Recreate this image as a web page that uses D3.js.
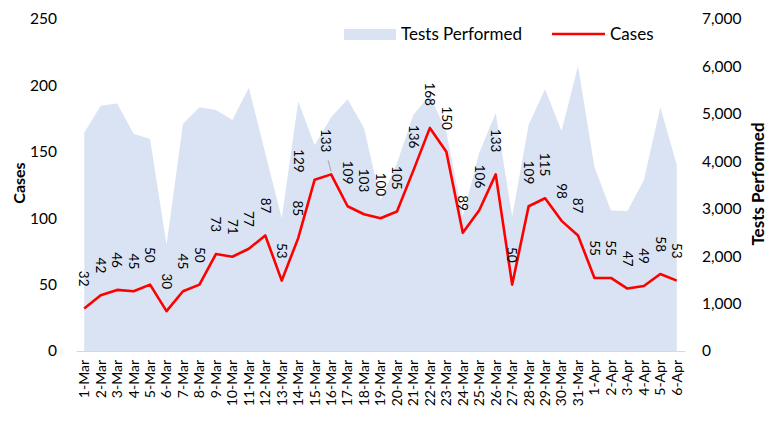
<!DOCTYPE html>
<meta charset="utf-8">
<script src="https://d3js.org/d3.v7.min.js"></script>
<style>
  body { margin: 0; background: #fff; }
  text { font-family: Lato, "Noto Sans", sans-serif; fill: #000; }
</style>
<div id="chart"></div>
<script>
// data
const dates = ["1-Mar","2-Mar","3-Mar","4-Mar","5-Mar","6-Mar","7-Mar","8-Mar","9-Mar","10-Mar",
  "11-Mar","12-Mar","13-Mar","14-Mar","15-Mar","16-Mar","17-Mar","18-Mar","19-Mar","20-Mar",
  "21-Mar","22-Mar","23-Mar","24-Mar","25-Mar","26-Mar","27-Mar","28-Mar","29-Mar","30-Mar",
  "31-Mar","1-Apr","2-Apr","3-Apr","4-Apr","5-Apr","6-Apr"];
const cases = [32,42,46,45,50,30,45,50,73,71,77,87,53,85,129,133,109,103,100,105,
  136,168,150,89,106,133,50,109,115,98,87,55,55,47,49,58,53];
const tests = [4600,5170,5220,4580,4470,2240,4790,5140,5080,4870,5550,4170,2800,5260,4340,4930,
  5310,4700,3180,3960,4980,5400,4620,2840,4180,5020,2830,4770,5520,4640,6010,3880,2960,2950,
  3600,5140,3920];
const casesTicks = [0,50,100,150,200,250];
const testsTicks = [0,1000,2000,3000,4000,5000,6000,7000];

const W = 767, H = 434;
const svg = d3.select("#chart").append("svg")
  .attr("width", W).attr("height", H);

const x = d3.scaleBand().domain(dates).range([76, 685]).padding(0);
const cx = d => x(d) + x.bandwidth() / 2;
const yL = d3.scaleLinear().domain([0, 250]).range([351, 19]);
const yR = d3.scaleLinear().domain([0, 7000]).range([351, 19]);

// tests area
const area = d3.area()
  .x((d, i) => cx(dates[i]))
  .y0(yR(0))
  .y1(d => yR(d));
svg.append("path")
  .datum(tests)
  .attr("d", area)
  .attr("fill", "#dae3f3");

// x axis
const xAxis = svg.append("g")
  .attr("transform", `translate(0,${yL(0)})`)
  .call(d3.axisBottom(x).tickSize(0));
xAxis.select(".domain").attr("stroke", "#d9d9d9").attr("stroke-width", 1);
xAxis.selectAll("text")
  .attr("transform", "rotate(-90)")
  .attr("x", -9).attr("y", 0).attr("dy", "0.35em")
  .attr("text-anchor", "end")
  .style("font-size", "14px");

// left axis
const leftAxis = svg.append("g")
  .attr("transform", "translate(60,0)")
  .call(d3.axisLeft(yL).tickValues(casesTicks).tickSize(0).tickPadding(3));
leftAxis.select(".domain").remove();
leftAxis.selectAll("text").style("font-size", "15.5px");

// right axis
const rightAxis = svg.append("g")
  .attr("transform", "translate(699,0)")
  .call(d3.axisRight(yR).tickValues(testsTicks).tickFormat(d3.format(",")).tickSize(0).tickPadding(3));
rightAxis.select(".domain").remove();
rightAxis.selectAll("text").style("font-size", "15.5px");

// axis titles
svg.append("text")
  .attr("transform", "translate(19,183) rotate(-90)")
  .attr("text-anchor", "middle")
  .attr("dy", "0.35em")
  .style("font-size", "16px").style("font-weight", "bold")
  .text("Cases");
svg.append("text")
  .attr("transform", "translate(758,184) rotate(-90)")
  .attr("text-anchor", "middle")
  .attr("dy", "0.35em")
  .style("font-size", "17px").style("font-weight", "bold")
  .text("Tests Performed");

// cases line
const line = d3.line()
  .x((d, i) => cx(dates[i]))
  .y(d => yL(d));
svg.append("path")
  .datum(cases)
  .attr("d", line)
  .attr("fill", "none")
  .attr("stroke", "#ff0000")
  .attr("stroke-width", 2.6)
  .attr("stroke-linejoin", "round");

// leader line for the shifted 16-Mar label
svg.append("line")
  .attr("x1", cx("16-Mar") - 3).attr("y1", yL(133) - 14)
  .attr("x2", cx("16-Mar")).attr("y2", yL(133) - 3)
  .attr("stroke", "#a6a6a6").attr("stroke-width", 1);

// data labels (a couple were dragged by hand in the original)
const nudge = { "15-Mar": [-16, 15], "16-Mar": [-5, 0] };
svg.append("g").selectAll("text")
  .data(cases)
  .join("text")
  .attr("transform", (d, i) => {
    const [dx, dy] = nudge[dates[i]] || [0, 0];
    return `translate(${cx(dates[i]) + dx},${yL(d) - 22 + dy}) rotate(90)`;
  })
  .attr("text-anchor", "end")
  .attr("dy", "0.35em")
  .style("font-size", "13.5px")
  .text(d => d);

// legend
const legend = svg.append("g");
legend.append("rect")
  .attr("x", 344).attr("y", 29).attr("width", 52).attr("height", 11)
  .attr("fill", "#dae3f3");
legend.append("text")
  .attr("x", 401).attr("y", 34).attr("dy", "0.35em")
  .style("font-size", "17px")
  .text("Tests Performed");
legend.append("line")
  .attr("x1", 552).attr("x2", 605).attr("y1", 34).attr("y2", 34)
  .attr("stroke", "#ff0000").attr("stroke-width", 2.6);
legend.append("text")
  .attr("x", 610).attr("y", 34).attr("dy", "0.35em")
  .style("font-size", "17px")
  .text("Cases");
</script>
